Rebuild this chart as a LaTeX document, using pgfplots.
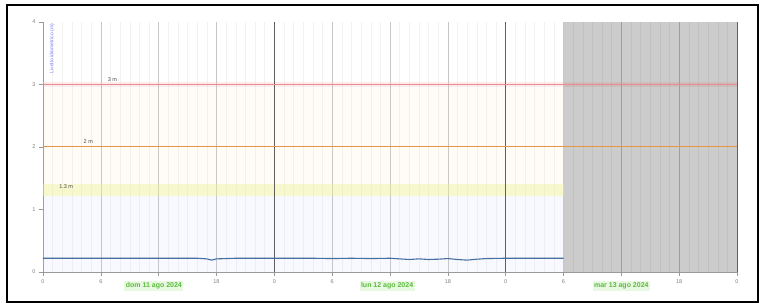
\documentclass[border=0pt]{standalone}
\usepackage{pgfplots}
\pgfplotsset{compat=1.18}
\usepackage{fontspec}
\setmainfont{Liberation Sans}
\definecolor{lvl}{RGB}{70,110,160}
\definecolor{redline}{RGB}{230,140,140}
\definecolor{orangeline}{RGB}{232,150,70}
\definecolor{yelband}{RGB}{240,240,150}
\definecolor{datecol}{RGB}{90,190,60}
\definecolor{dateback}{RGB}{232,248,225}
\begin{document}
\begin{tikzpicture}[x=1pt,y=1pt]
\path[fill=white] (0,0) rectangle (761,305);
\draw[black,line width=1.6pt] (7,3) rectangle (758,300);
\begin{axis}[
  at={(43pt,33pt)}, anchor=south west,
  scale only axis, width=694pt, height=250pt,
  xmin=0, xmax=72, ymin=0, ymax=4,
  axis x line*=bottom, axis y line*=left,
  axis line style={gray!80, line width=0.9pt},
  xtick={0,6,...,72},
  xticklabels={0,6,,18,0,6,,18,0,6,,18,0},
  minor x tick num=5,
  ytick={0,1,2,3,4},
  grid=both,
  major grid style={gray!45, line width=0.6pt},
  minor grid style={gray!10, line width=0.4pt},
  ymajorgrids=false, yminorgrids=false,
  tick align=outside, major tick length=4pt, minor tick length=0pt,
  tick style={gray!80, line width=0.6pt},
  tick label style={font=\fontsize{5.5}{6}\selectfont, text=gray},
  /pgf/number format/assume math mode=true,
  clip=false,
]
% background bands (faint, transparent)
\addplot[draw=none, fill=blue!20, fill opacity=0.12] coordinates {(0,0) (54,0) (54,1.22) (0,1.22)} -- cycle;
\addplot[draw=none, fill=yelband, fill opacity=0.45] coordinates {(0,1.22) (54,1.22) (54,1.4) (0,1.4)} -- cycle;
\addplot[draw=none, fill=orange!30, fill opacity=0.08] coordinates {(0,1.4) (54,1.4) (54,2.95) (0,2.95)} -- cycle;
\addplot[draw=none, fill=red!30, fill opacity=0.25] coordinates {(0,2.96) (72,2.96) (72,3.04) (0,3.04)} -- cycle;
% grey shaded forecast region
\addplot[draw=none, fill=black, fill opacity=0.2] coordinates {(54,0) (72,0) (72,4) (54,4)} -- cycle;
% day boundaries
\addplot[gray!75!black, line width=0.9pt] coordinates {(24,0) (24,4)};
\addplot[gray!75!black, line width=0.9pt] coordinates {(48,0) (48,4)};
\addplot[gray!75!black, line width=0.9pt] coordinates {(72,0) (72,4)};
% thresholds
\addplot[redline, line width=1.3pt] coordinates {(0,3) (72,3)};
\addplot[orangeline, line width=1pt] coordinates {(0,2) (72,2)};
\node[anchor=south, font=\fontsize{5.5}{6}\selectfont, text=gray!60!black, inner sep=1pt] at (axis cs:7.2,3.03) {3 m};
\node[anchor=south, font=\fontsize{5.5}{6}\selectfont, text=gray!60!black, inner sep=1pt] at (axis cs:4.7,2.03) {2 m};
\node[anchor=south, font=\fontsize{5.5}{6}\selectfont, text=gray!60!black, inner sep=1pt] at (axis cs:2.4,1.32) {1.3 m};
% water level
\addplot[lvl, line width=1.1pt] coordinates {
(0,0.22)(4,0.22)(8,0.22)(12,0.22)(16,0.22)(17,0.21)(17.5,0.19)(18,0.21)(19,0.215)(20,0.22)
(24,0.22)(28,0.22)(30,0.215)(32,0.22)(34,0.215)(36,0.22)(37,0.21)(38,0.2)(39,0.21)(40,0.2)
(41,0.205)(42,0.215)(43,0.2)(44,0.19)(45,0.205)(46,0.215)(48,0.22)(50,0.22)(52,0.22)(54,0.22)};
% axis title
\node[rotate=90, anchor=east, font=\fontsize{5}{5}\selectfont, text=blue!50, inner sep=0pt] at (axis cs:0.95,3.97) {Livello idrometrico (m)};
% day labels
\node[font=\fontsize{7}{8}\bfseries\selectfont, text=datecol, fill=dateback, inner sep=1.5pt, yshift=-14pt] at (axis cs:11.5,0) {dom 11 ago 2024};
\node[font=\fontsize{7}{8}\bfseries\selectfont, text=datecol, fill=dateback, inner sep=1.5pt, yshift=-14pt] at (axis cs:35.7,0) {lun 12 ago 2024};
\node[font=\fontsize{7}{8}\bfseries\selectfont, text=datecol, fill=dateback, inner sep=1.5pt, yshift=-14pt] at (axis cs:60,0) {mar 13 ago 2024};
\end{axis}
\end{tikzpicture}
\end{document}
